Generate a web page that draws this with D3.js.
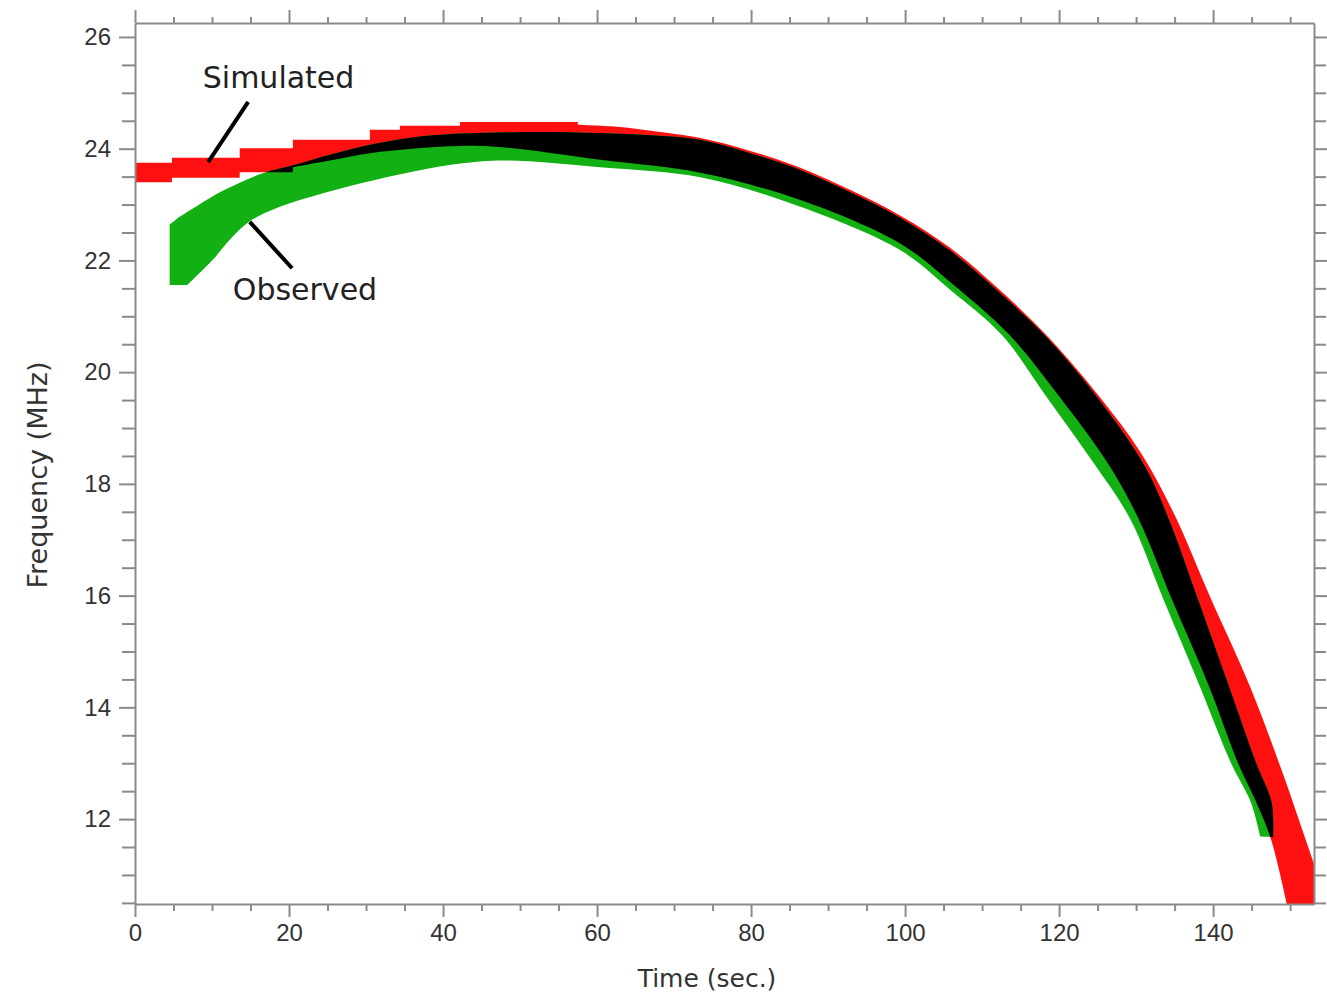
<!DOCTYPE html>
<html>
<head>
<meta charset="utf-8">
<script src="https://cdn.jsdelivr.net/npm/d3@7"></script>
<style>
  body { margin: 0; background: #fff; }
  svg { display: block; font-family: "DejaVu Sans", sans-serif; }
  .axis path, .axis line { stroke: #8a8a8a; stroke-width: 2; }
  .axis text { fill: #333; font-size: 24px; }
</style>
</head>
<body>
<div id="chart"></div>
<script>
// band edges, [time (s), frequency (MHz)]
// the early part of the simulated band is stepped (frequency channels)
const simulatedTop = [
  [0, 23.75], [4.8, 23.75], [4.8, 23.84], [13.6, 23.84], [13.6, 24.01], [20.5, 24.01],
  [20.5, 24.16], [30.5, 24.16], [30.5, 24.34], [34.4, 24.34], [34.4, 24.41], [42.2, 24.41],
  [42.2, 24.48], [57.5, 24.48], [57.5, 24.43], [63, 24.39], [67, 24.32], [73.4, 24.19],
  [79.9, 23.96], [86.4, 23.66], [92.9, 23.26], [99.4, 22.80], [105.8, 22.23], [112.3, 21.47],
  [118.8, 20.60], [125.3, 19.55], [130.5, 18.58], [134.8, 17.50], [139.6, 15.98],
  [144.8, 14.37], [148.7, 12.95], [151.6, 11.80], [154, 10.8], [155, 10.2]
]
const simulatedBottom = [
  [0, 23.40], [4.8, 23.40], [4.8, 23.48], [13.6, 23.48], [13.6, 23.58], [20.5, 23.58],
  [20.5, 23.67], [25.3, 23.79], [30.5, 23.92], [36, 24.00], [42.2, 24.05], [48, 24.02],
  [60.4, 23.80], [73.4, 23.57], [86.4, 23.08], [99.4, 22.30], [105.8, 21.62], [113.6, 20.66],
  [120.1, 19.55], [126.4, 18.35], [130.3, 17.38], [134.6, 15.95], [139.4, 14.40],
  [143.3, 12.98], [145.6, 12.30], [147.6, 11.60], [150.0, 10.2]
]
const observedTop = [
  [4.5, 22.64], [5.8, 22.78], [8.1, 22.98], [10.1, 23.15], [13.6, 23.39], [16.6, 23.56],
  [21.0, 23.72], [25.3, 23.89], [30.5, 24.07], [36, 24.20], [42.2, 24.27], [52, 24.30],
  [60.4, 24.28], [67, 24.24], [73.4, 24.16], [79.9, 23.92], [86.4, 23.62], [92.9, 23.22],
  [99.4, 22.76], [105.8, 22.18], [112.3, 21.42], [118.4, 20.62], [124.9, 19.56],
  [131.2, 18.30], [134.3, 17.35], [138.0, 15.95], [142.0, 14.40], [145.6, 13.00],
  [147.6, 12.30], [147.8, 11.68]
]
const observedBottom = [
  [4.5, 21.56], [6.8, 21.56], [10.1, 22.01], [12.3, 22.37], [14.9, 22.70], [18.8, 22.96],
  [23.1, 23.15], [29.6, 23.39], [34.0, 23.53], [38.3, 23.65], [42.6, 23.74], [48, 23.79],
  [60.4, 23.67], [73.4, 23.49], [86.4, 22.96], [99.4, 22.18], [105.8, 21.48], [112.6, 20.66],
  [118.4, 19.55], [124.6, 18.35], [129.2, 17.38], [133.5, 15.95], [138.2, 14.40],
  [142.4, 12.98], [144.9, 12.30], [146.1, 11.69]
]

const xTicks = [0, 20, 40, 60, 80, 100, 120, 140]
const yTicks = [12, 14, 16, 18, 20, 22, 24, 26]

const W = 1327, H = 996
const plot = { left: 135, right: 1314, top: 23, bottom: 904 }

const x = d3.scaleLinear().domain([0, 153.1]).range([plot.left, plot.right])
const y = d3.scaleLinear().domain([10.48, 26.25]).range([plot.bottom, plot.top])

const svg = d3.select('#chart').append('svg')
  .attr('width', W)
  .attr('height', H)

const defs = svg.append('defs')
defs.append('clipPath').attr('id', 'plot-clip')
  .append('rect')
  .attr('x', plot.left).attr('y', plot.top)
  .attr('width', plot.right - plot.left).attr('height', plot.bottom - plot.top)

const smooth = d3.curveCatmullRom.alpha(0.5)
const lineWith = (curve) => d3.line().x(d => x(d[0])).y(d => y(d[1])).curve(curve)

// closed outline from pieces; each piece keeps its own curve
const outline = (pieces) => pieces.map((p, i) => {
  const d = lineWith(p.curve)(p.pts)
  return i === 0 ? d : 'L' + d.slice(1)
}).join('') + 'Z'

// top edge left to right (steps, then smooth), bottom edge back
const simulatedPath = outline([
  { pts: simulatedTop.slice(0, 15), curve: d3.curveLinear },
  { pts: simulatedTop.slice(14), curve: smooth },
  { pts: simulatedBottom.slice(6).reverse(), curve: smooth },
  { pts: simulatedBottom.slice(0, 7).reverse(), curve: d3.curveLinear }
])
const observedPath = outline([
  { pts: observedTop, curve: smooth },
  { pts: observedBottom.slice(1).reverse(), curve: smooth },
  { pts: observedBottom.slice(0, 2).reverse(), curve: d3.curveLinear }
])

defs.append('clipPath').attr('id', 'sim-clip')
  .append('path').attr('d', simulatedPath)

const marks = svg.append('g').attr('clip-path', 'url(#plot-clip)')

marks.append('path')
  .attr('d', simulatedPath)
  .attr('fill', '#ff1010')

marks.append('path')
  .attr('d', observedPath)
  .attr('fill', '#12b012')

// overlap of both bands in black
marks.append('g').attr('clip-path', 'url(#sim-clip)')
  .append('path')
  .attr('d', observedPath)
  .attr('fill', '#000')

// axes, ticks outward on all four sides
const minorX = d3.range(0, 155, 5).filter(v => v % 20 !== 0)
const minorY = d3.range(10.5, 26.5, 0.5).filter(v => v % 2 !== 0)

const addAxis = (gen, transform, values, size, labels) => {
  const g = svg.append('g')
    .attr('class', 'axis')
    .attr('transform', transform)
    .call(gen.tickValues(values).tickSize(size).tickSizeOuter(0)
      .tickFormat(labels ? d3.format('d') : ''))
  if (!labels) g.select('.domain').remove()
  return g
}

addAxis(d3.axisBottom(x), `translate(0,${plot.bottom})`, xTicks, 13, true)
  .selectAll('text').attr('dy', '0.78em').attr('y', 18)
addAxis(d3.axisBottom(x), `translate(0,${plot.bottom})`, minorX, 7, false)
addAxis(d3.axisTop(x), `translate(0,${plot.top})`, xTicks, 13, false)
addAxis(d3.axisTop(x), `translate(0,${plot.top})`, minorX, 6, false)
svg.append('g').attr('class', 'axis')
  .attr('transform', `translate(0,${plot.top})`)
  .call(d3.axisTop(x).tickValues([]).tickSizeOuter(0))

addAxis(d3.axisLeft(y), `translate(${plot.left},0)`, yTicks, 16, true)
  .selectAll('text').attr('x', -24)
addAxis(d3.axisLeft(y), `translate(${plot.left},0)`, minorY, 13, false)
svg.append('g').attr('class', 'axis')
  .attr('transform', `translate(${plot.right},0)`)
  .call(d3.axisRight(y).tickValues(yTicks).tickSize(16).tickSizeOuter(0).tickFormat(''))
addAxis(d3.axisRight(y), `translate(${plot.right},0)`, minorY, 12, false)

// axis titles
svg.append('text')
  .attr('x', 707).attr('y', 987)
  .attr('text-anchor', 'middle')
  .attr('fill', '#333')
  .style('font-size', '25px')
  .text('Time (sec.)')

svg.append('text')
  .attr('transform', 'translate(47,475) rotate(-90)')
  .attr('text-anchor', 'middle')
  .attr('fill', '#333')
  .style('font-size', '27px')
  .text('Frequency (MHz)')

// annotations (data coordinates)
const notes = [
  { text: 'Simulated', at: [8.8, 25.09], from: [14.7, 24.84], to: [9.5, 23.76] },
  { text: 'Observed', at: [12.7, 21.29], from: [14.9, 22.69], to: [20.4, 21.86] }
]
notes.forEach(n => {
  svg.append('line')
    .attr('x1', x(n.from[0])).attr('y1', y(n.from[1]))
    .attr('x2', x(n.to[0])).attr('y2', y(n.to[1]))
    .attr('stroke', '#000')
    .attr('stroke-width', 4)
  svg.append('text')
    .attr('x', x(n.at[0])).attr('y', y(n.at[1]))
    .attr('fill', '#222')
    .style('font-size', '30px')
    .text(n.text)
})
</script>
</body>
</html>
